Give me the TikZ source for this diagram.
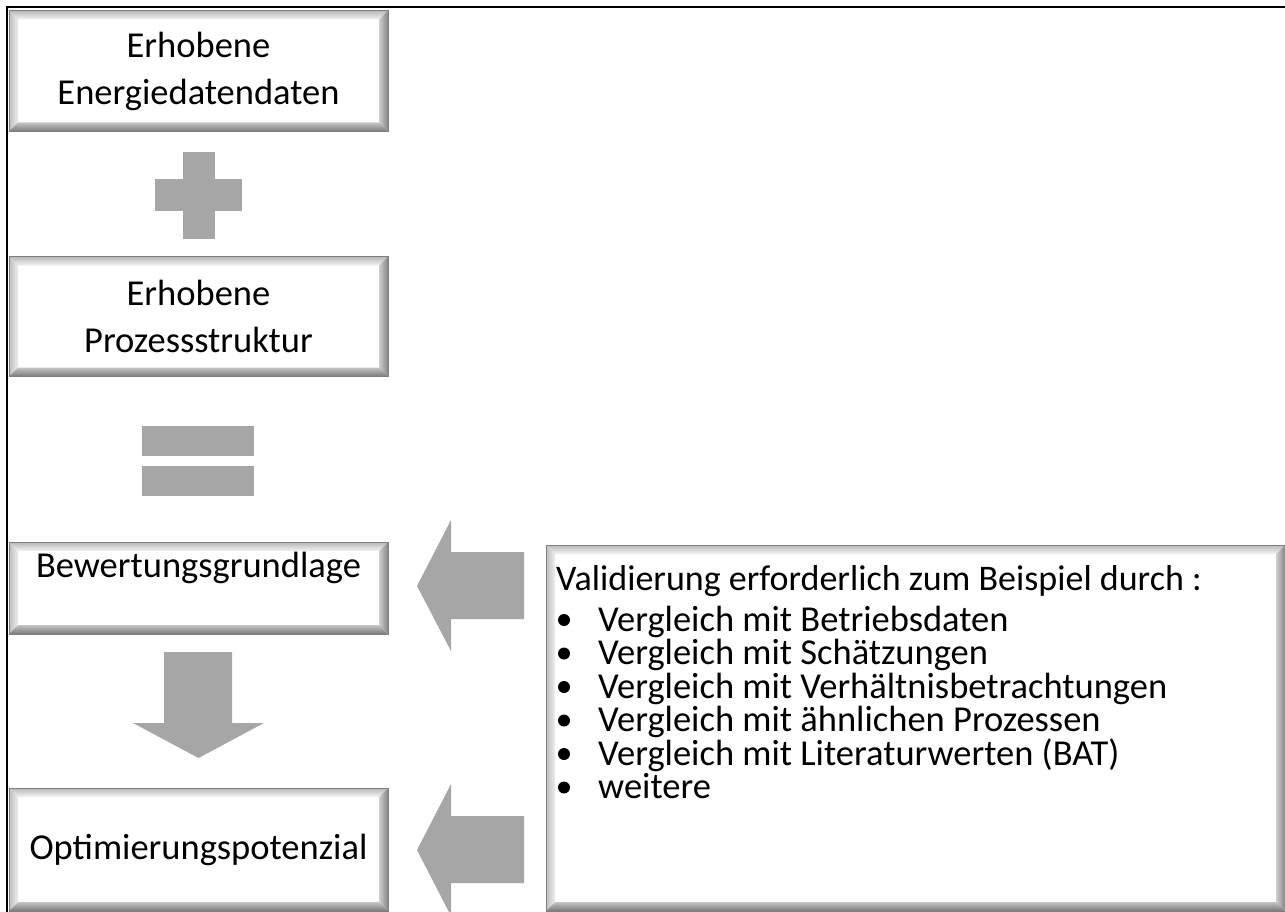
\documentclass[tikz,border=0pt]{standalone}
\usepackage{fontspec}
\setmainfont{Carlito}
\usetikzlibrary{calc}
\definecolor{arrowgray}{HTML}{A6A6A6}
\definecolor{bevline}{HTML}{7F7F7F}
\definecolor{bevtopo}{HTML}{B8B8B8}
\definecolor{bevtopi}{HTML}{F4F4F4}
\definecolor{bevlefto}{HTML}{BDBDBD}
\definecolor{beflefti}{HTML}{EEEEEE}
\definecolor{bevrighto}{HTML}{858585}
\definecolor{bevrighti}{HTML}{CFCFCF}
\definecolor{bevboto}{HTML}{7A7A7A}
\definecolor{bevboti}{HTML}{C4C4C4}
\newcommand\bv{9}
\tikzset{
  bevelbox/.style={rectangle, inner sep=0pt, outer sep=0pt, draw=bevline, line width=0.8pt,
    fill=white, align=center, font=\fontsize{36.5}{47}\selectfont,
    path picture={
      \coordinate (@nw) at (path picture bounding box.north west);
      \coordinate (@se) at (path picture bounding box.south east);
      \coordinate (@ne) at (path picture bounding box.north east);
      \coordinate (@sw) at (path picture bounding box.south west);
      \shade[top color=bevtopo, bottom color=bevtopi]
        (@nw) -- (@ne) -- ($(@ne)+(-\bv,\bv)$) -- ($(@nw)+(\bv,\bv)$) -- cycle;
      \shade[left color=bevlefto, right color=beflefti]
        (@nw) -- ($(@nw)+(\bv,\bv)$) -- ($(@sw)+(\bv,-\bv)$) -- (@sw) -- cycle;
      \shade[left color=bevrighti, right color=bevrighto]
        (@ne) -- (@se) -- ($(@se)+(-\bv,-\bv)$) -- ($(@ne)+(-\bv,\bv)$) -- cycle;
      \shade[top color=bevboti, bottom color=bevboto]
        (@sw) -- ($(@sw)+(\bv,-\bv)$) -- ($(@se)+(-\bv,-\bv)$) -- (@se) -- cycle;
    }},
  gray shape/.style={fill=arrowgray, draw=none},
  vtext/.style={anchor=base west, inner sep=0pt, text height=24pt, text depth=7pt,
    font=\fontsize{36.5}{44}\selectfont},
  bulletdot/.style={fill=black},
  frame/.style={line width=2.5pt, draw=black},
}
\begin{document}
\begin{tikzpicture}[x=1pt, y=-1pt]
\useasboundingbox (0,0) rectangle (1285,912);
\fill[white] (0,0) rectangle (1285,912);
% outer frame (top and left only)
\coordinate (fa) at (7,912);
\coordinate (fb) at (7,7);
\coordinate (fc) at (1285,7);
\draw[frame] (fa) -- (fb) -- (fc);

% boxes
\node[bevelbox, minimum width=379, minimum height=121] (b1) at (198.5,71)
  {Erhobene\\Energiedatendaten};
\node[bevelbox, minimum width=379, minimum height=120] (b2) at (198.5,316.5)
  {Erhobene\\Prozessstruktur};
\node[bevelbox, minimum width=379, minimum height=92] (b3) at (198.5,588)
  {Bewertungsgrundlage\\\mbox{}};
\node[bevelbox, minimum width=379, minimum height=123] (b4) at (198.5,849.5)
  {Optimierungspotenzial};
\node[bevelbox, minimum width=739, minimum height=366] (vb) at (915.5,728) {};

% plus sign
\fill[gray shape] (182.5,152) rectangle (214.5,239);
\fill[gray shape] (155,179.5) rectangle (242,211.5);
% equals sign
\fill[gray shape] (142,426) rectangle (254,456);
\fill[gray shape] (142,466) rectangle (254,496);

% down arrow
\fill[gray shape] (164,652) -- (232,652) -- (232,723) -- (264,723) -- (198.5,758)
  -- (133,723) -- (164,723) -- cycle;
% left arrows
\fill[gray shape] (524,552) -- (524,619) -- (451,619) -- (451,651) -- (417,586)
  -- (451,520) -- (451,552) -- cycle;
\fill[gray shape] (524,816) -- (524,883) -- (451,883) -- (451,916) -- (417,850)
  -- (451,784) -- (451,816) -- cycle;

% validation text
\node[vtext, font=\fontsize{36}{44}\selectfont] (vh) at (556,590)
  {Validierung erforderlich zum Beispiel durch :};
\node[vtext] (v1) at (598,631) {Vergleich mit Betriebsdaten};
\node[vtext] (v2) at (598,664.5) {Vergleich mit Schätzungen};
\node[vtext] (v3) at (598,698) {Vergleich mit Verhältnisbetrachtungen};
\node[vtext] (v4) at (598,731.5) {Vergleich mit ähnlichen Prozessen};
\node[vtext] (v5) at (598,765) {Vergleich mit Literaturwerten (BAT)};
\node[vtext] (v6) at (598,798.5) {weitere};
\foreach \n in {v1,v2,v3,v4,v5,v6}
  \fill[bulletdot] ($(\n.base west)+(-34,-11)$) circle (6);
\end{tikzpicture}
\end{document}
